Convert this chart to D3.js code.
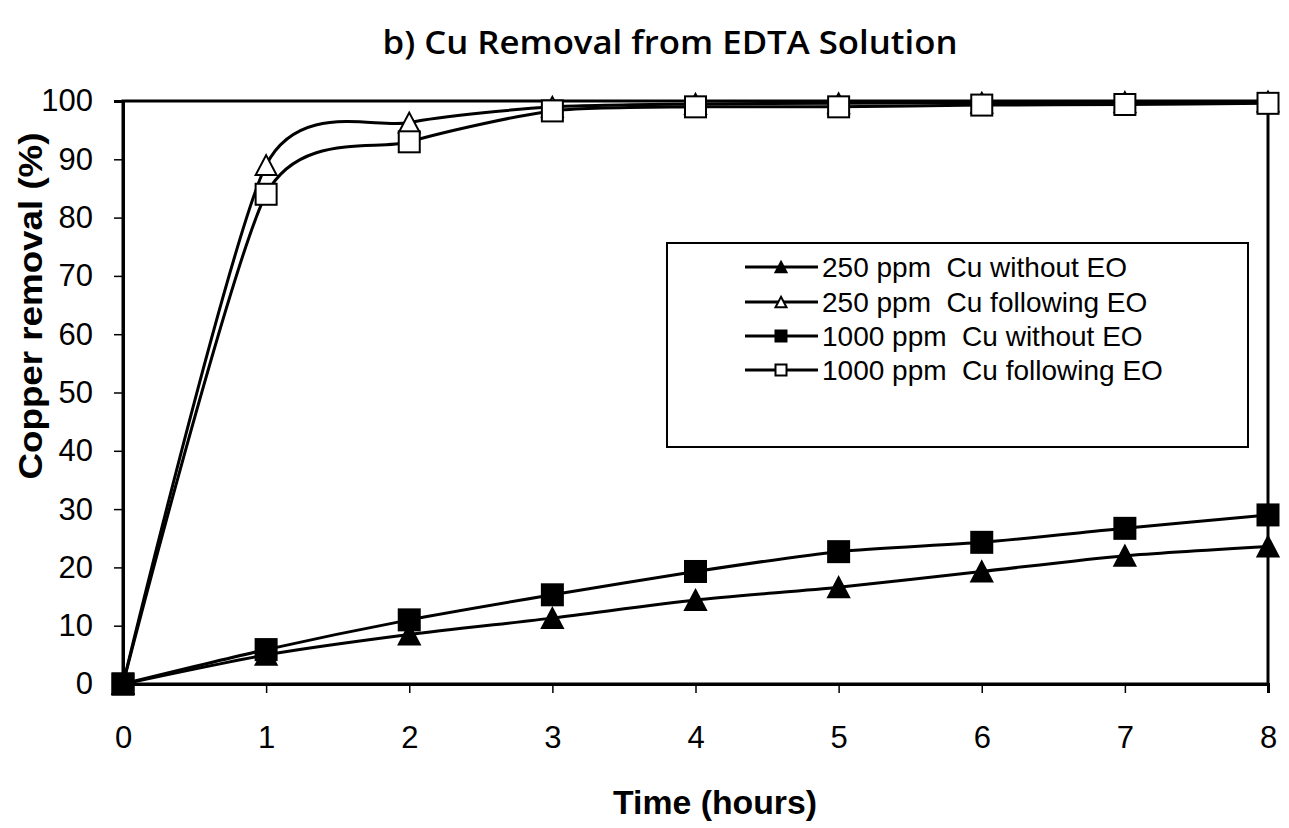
<!DOCTYPE html>
<html>
<head>
<meta charset="utf-8">
<script src="https://cdn.jsdelivr.net/npm/d3@7"></script>
<style>
  body { margin: 0; background: #fff; }
  text { font-family: "Liberation Sans", Arial, sans-serif; fill: #000; }
</style>
</head>
<body>
<div id="chart"></div>
<script>
// data
var hours = [0, 1, 2, 3, 4, 5, 6, 7, 8];
var cu250NoEO = [0, 5, 8.5, 11.3, 14.4, 16.6, 19.3, 22, 23.6];
var cu250EO = [0, 89, 96.3, 99, 99.5, 99.6, 99.7, 99.8, 99.9];
var cu1000NoEO = [0, 5.9, 11, 15.3, 19.3, 22.7, 24.3, 26.7, 29];
var cu1000EO = [0, 84, 93, 98.3, 99, 99, 99.3, 99.4, 99.6];
var seriesNames = ["250 ppm  Cu without EO", "250 ppm  Cu following EO",
                   "1000 ppm  Cu without EO", "1000 ppm  Cu following EO"];
var yTicks = [0, 10, 20, 30, 40, 50, 60, 70, 80, 90, 100];

var width = 1289, height = 828;
var plotLeft = 123, plotRight = 1268, plotTop = 101, plotBottom = 684;

var series = [
    {name: seriesNames[0], values: cu250NoEO, shape: "tri", filled: true},
    {name: seriesNames[1], values: cu250EO, shape: "tri", filled: false},
    {name: seriesNames[2], values: cu1000NoEO, shape: "sq", filled: true},
    {name: seriesNames[3], values: cu1000EO, shape: "sq", filled: false}
];
// open-marker series go underneath the filled ones
var drawOrder = [1, 3, 0, 2];

var x = d3.scaleLinear().domain([0, 8]).range([plotLeft, plotRight]);
var y = d3.scaleLinear().domain([0, 100]).range([plotBottom, plotTop]);

var svg = d3.select("#chart").append("svg")
    .attr("width", width)
    .attr("height", height);

// title
svg.append("text")
    .attr("x", 670)
    .attr("y", 54)
    .attr("text-anchor", "middle")
    .style("font-family", "'Open Sans', sans-serif")
    .style("font-weight", "600")
    .style("font-size", "32px")
    .attr("textLength", 575)
    .attr("lengthAdjust", "spacingAndGlyphs")
    .text("b) Cu Removal from EDTA Solution");

// plot frame
svg.append("rect")
    .attr("x", plotLeft)
    .attr("y", plotTop)
    .attr("width", plotRight - plotLeft)
    .attr("height", plotBottom - plotTop)
    .attr("fill", "none")
    .attr("stroke", "#000")
    .attr("stroke-width", 3);

// axes
var xAxis = d3.axisBottom(x).tickValues(hours).tickSize(9).tickPadding(43);
var yAxis = d3.axisLeft(y).tickValues(yTicks).tickSize(9).tickPadding(21);

var gx = svg.append("g")
    .attr("transform", "translate(0," + plotBottom + ")")
    .call(xAxis);
var gy = svg.append("g")
    .attr("transform", "translate(" + plotLeft + ",0)")
    .call(yAxis);

[gx, gy].forEach(function(g) {
    g.select(".domain").attr("stroke-width", 3);
    g.selectAll(".tick line").attr("stroke-width", 1.5);
    g.selectAll(".tick text")
        .style("font-family", "'Liberation Sans', Arial, sans-serif")
        .style("font-size", "31px")
        .attr("fill", "#000");
});
gx.selectAll(".tick text").attr("dy", "0.4em");

// axis labels
svg.append("text")
    .attr("transform", "translate(42,306) rotate(-90)")
    .attr("text-anchor", "middle")
    .style("font-weight", "bold")
    .style("font-size", "34px")
    .attr("textLength", 347)
    .attr("lengthAdjust", "spacingAndGlyphs")
    .text("Copper removal (%)");

svg.append("text")
    .attr("x", 715)
    .attr("y", 814)
    .attr("text-anchor", "middle")
    .style("font-weight", "bold")
    .style("font-size", "33px")
    .attr("textLength", 204)
    .attr("lengthAdjust", "spacingAndGlyphs")
    .text("Time (hours)");

var line = d3.line()
    .x(function(d, i) { return x(hours[i]); })
    .y(function(d) { return y(d); })
    .curve(d3.curveCardinal.tension(0.3));

function marker(g, s, cx, cy, size) {
    if (s.shape == "tri") {
        var h = size * 0.95;
        g.append("path")
            .attr("d", "M" + cx + "," + (cy - h / 2) +
                       "L" + (cx + size / 2) + "," + (cy + h / 2) +
                       "L" + (cx - size / 2) + "," + (cy + h / 2) + "Z")
            .attr("fill", s.filled ? "#000" : "#fff")
            .attr("stroke", "#000")
            .attr("stroke-width", 2);
    } else {
        g.append("rect")
            .attr("x", cx - size / 2)
            .attr("y", cy - size / 2)
            .attr("width", size)
            .attr("height", size)
            .attr("fill", s.filled ? "#000" : "#fff")
            .attr("stroke", "#000")
            .attr("stroke-width", 2);
    }
}

drawOrder.forEach(function(k) {
    var s = series[k];
    var g = svg.append("g");
    g.append("path")
        .datum(s.values)
        .attr("d", line)
        .attr("fill", "none")
        .attr("stroke", "#000")
        .attr("stroke-width", 3);
    s.values.forEach(function(v, i) {
        marker(g, s, x(hours[i]), y(v), 21);
    });
});

// legend
var lg = svg.append("g");
lg.append("rect")
    .attr("x", 667)
    .attr("y", 243)
    .attr("width", 1248 - 667)
    .attr("height", 447 - 243)
    .attr("fill", "#fff")
    .attr("stroke", "#000")
    .attr("stroke-width", 2);

var rowY = [267, 302, 336, 370];
series.forEach(function(s, i) {
    lg.append("line")
        .attr("x1", 745).attr("x2", 818)
        .attr("y1", rowY[i]).attr("y2", rowY[i])
        .attr("stroke", "#000")
        .attr("stroke-width", 3);
    marker(lg, s, 781, rowY[i], 11);
    lg.append("text")
        .attr("x", 822)
        .attr("y", rowY[i])
        .attr("dy", "0.36em")
        .style("font-size", "28px")
        .style("white-space", "pre")
        .text(s.name);
});
</script>
</body>
</html>
